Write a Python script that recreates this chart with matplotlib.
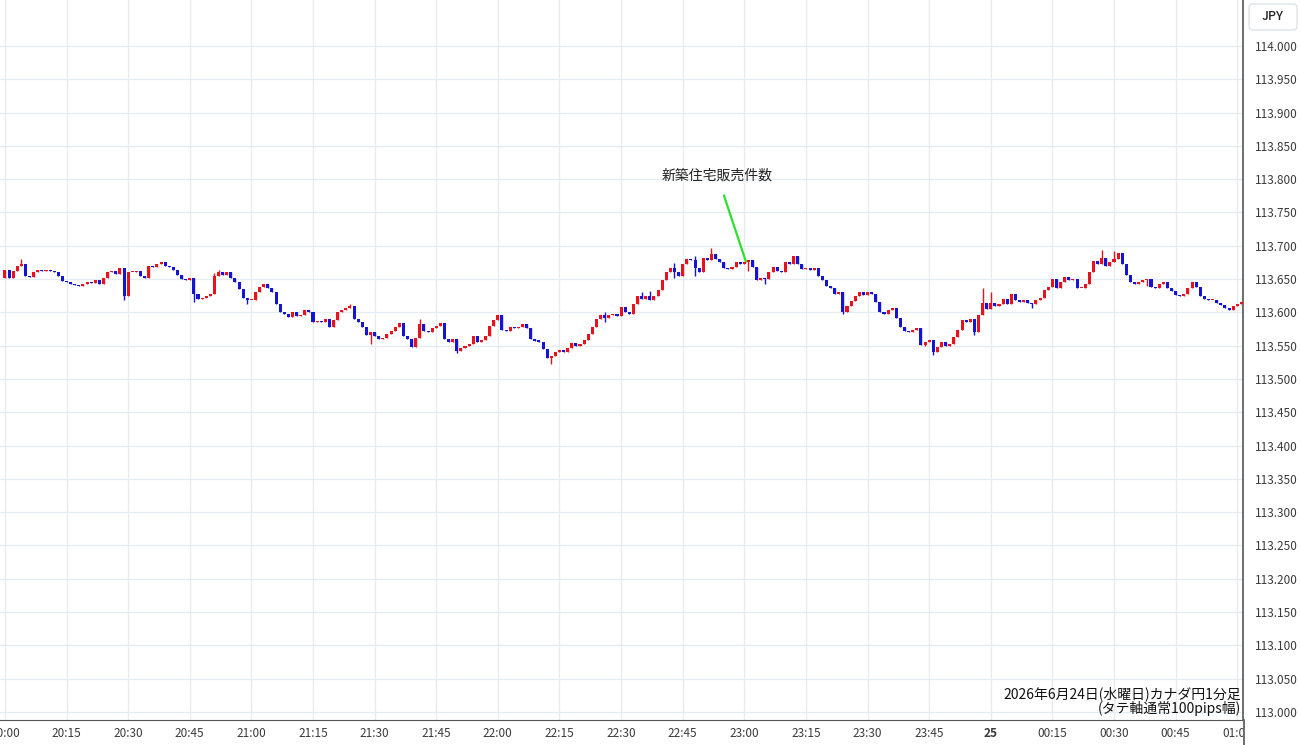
import numpy as np
import pandas as pd
import matplotlib
matplotlib.use('Agg')
import matplotlib.pyplot as plt
import matplotlib.dates as mdates
from matplotlib.patches import FancyBboxPatch, Rectangle
from matplotlib.lines import Line2D

plt.rcParams['font.family'] = ['Noto Sans CJK JP', 'DejaVu Sans']

# 1-minute CAD/JPY closes from 20:00
start = '2026-06-24 20:00'
first_open = 113.652
close = [
    113.664, 113.652, 113.662, 113.670, 113.673, 113.655, 113.653, 113.660, 113.664, 113.662, 113.664, 113.662, 113.660, 113.655, 113.647,
    113.645, 113.643, 113.641, 113.640, 113.642, 113.645, 113.644, 113.648, 113.643, 113.652, 113.660, 113.662, 113.658, 113.666, 113.625,
    113.660, 113.660, 113.662, 113.655, 113.652, 113.670, 113.668, 113.672, 113.675, 113.670, 113.668, 113.664, 113.656, 113.650, 113.648,
    113.652, 113.628, 113.620, 113.622, 113.625, 113.627, 113.655, 113.660, 113.656, 113.660, 113.652, 113.645, 113.635, 113.622, 113.618,
    113.619, 113.630, 113.638, 113.642, 113.636, 113.630, 113.612, 113.600, 113.598, 113.593, 113.600, 113.594, 113.596, 113.603, 113.600,
    113.585, 113.587, 113.586, 113.590, 113.578, 113.588, 113.600, 113.604, 113.606, 113.610, 113.590, 113.585, 113.578, 113.566, 113.570,
    113.565, 113.560, 113.562, 113.568, 113.572, 113.578, 113.584, 113.565, 113.560, 113.548, 113.562, 113.582, 113.572, 113.570, 113.576,
    113.580, 113.584, 113.560, 113.556, 113.560, 113.542, 113.546, 113.550, 113.553, 113.565, 113.556, 113.558, 113.565, 113.580, 113.589,
    113.596, 113.574, 113.572, 113.578, 113.576, 113.578, 113.582, 113.576, 113.560, 113.557, 113.556, 113.545, 113.532, 113.534, 113.540,
    113.544, 113.540, 113.547, 113.554, 113.550, 113.553, 113.558, 113.568, 113.578, 113.590, 113.596, 113.592, 113.596, 113.597, 113.595,
    113.608, 113.600, 113.598, 113.612, 113.625, 113.620, 113.624, 113.618, 113.624, 113.634, 113.648, 113.660, 113.666, 113.660, 113.654,
    113.672, 113.680, 113.678, 113.666, 113.660, 113.682, 113.678, 113.688, 113.680, 113.676, 113.667, 113.665, 113.668, 113.676, 113.672,
    113.676, 113.678, 113.668, 113.648, 113.652, 113.650, 113.660, 113.668, 113.662, 113.660, 113.676, 113.672, 113.685, 113.672, 113.665,
    113.667, 113.664, 113.666, 113.655, 113.648, 113.640, 113.636, 113.628, 113.630, 113.600, 113.610, 113.617, 113.624, 113.630, 113.626,
    113.630, 113.627, 113.615, 113.600, 113.598, 113.603, 113.606, 113.592, 113.578, 113.572, 113.570, 113.574, 113.576, 113.551, 113.555,
    113.558, 113.540, 113.548, 113.555, 113.550, 113.552, 113.563, 113.574, 113.589, 113.585, 113.590, 113.570, 113.596, 113.614, 113.605,
    113.614, 113.610, 113.612, 113.620, 113.612, 113.627, 113.618, 113.616, 113.618, 113.614, 113.612, 113.618, 113.622, 113.634, 113.638,
    113.650, 113.636, 113.645, 113.653, 113.649, 113.650, 113.636, 113.636, 113.642, 113.660, 113.677, 113.672, 113.682, 113.670, 113.675,
    113.680, 113.689, 113.672, 113.656, 113.646, 113.642, 113.645, 113.648, 113.650, 113.638, 113.636, 113.642, 113.645, 113.636, 113.632,
    113.626, 113.625, 113.628, 113.636, 113.645, 113.638, 113.624, 113.620, 113.618, 113.618, 113.614, 113.611, 113.607, 113.604, 113.610,
    113.612, 113.615,
]
# wicks that stick out beyond the body (minute index -> price)
high_wick = {4: 113.680, 51: 113.659, 52: 113.663, 84: 113.613, 101: 113.590, 146: 113.601,
             155: 113.630, 157: 113.632, 163: 113.674, 168: 113.684, 172: 113.697, 238: 113.636,
             240: 113.630, 267: 113.694, 270: 113.692}
low_wick = {29: 113.618, 46: 113.616, 59: 113.612, 89: 113.553, 110: 113.539, 133: 113.522,
            146: 113.585, 163: 113.652, 168: 113.655, 181: 113.662, 185: 113.642, 204: 113.597,
            224: 113.549, 226: 113.536, 236: 113.566, 250: 113.606, 278: 113.640}

tick_labels = ['20:00', '20:15', '20:30', '20:45', '21:00', '21:15', '21:30', '21:45',
               '22:00', '22:15', '22:30', '22:45', '23:00', '23:15', '23:30', '23:45',
               '25', '00:15', '00:30', '00:45', '01:00']

times = pd.date_range(start, periods=len(close), freq='min')
opens = [first_open] + close[:-1]
x = mdates.date2num(times)
o = np.array(opens)
c = np.array(close)
hi = np.maximum(o, c)
lo = np.minimum(o, c)
for k, v in high_wick.items():
    hi[k] = v
for k, v in low_wick.items():
    lo[k] = v

up_col = '#e8121c'
dn_col = '#1414d6'
cols = [up_col if cc >= oo else dn_col for oo, cc in zip(o, c)]

fig = plt.figure(figsize=(13, 7.45), dpi=100)
ax = fig.add_axes([0, 25 / 745, 1243 / 1300, 720 / 745])

one_min = 1 / 1440
ax.vlines(x, lo, hi, colors=cols, lw=1, zorder=3)
body = np.maximum(np.abs(c - o), 0.0018)
ax.bar(x, body, bottom=np.minimum(o, c), width=0.74 * one_min, color=cols, lw=0, zorder=4)

t0 = mdates.date2num(pd.Timestamp(start))
ax.set_xlim(t0 - 1.2 * one_min, t0 + 301.4 * one_min)
ax.set_ylim(112.988, 114.069)

tick_pos = mdates.date2num(pd.date_range(start, periods=len(tick_labels), freq='15min'))
ax.set_xticks(tick_pos)
ax.set_xticklabels(tick_labels)
for lab in ax.get_xticklabels():
    if lab.get_text() == '25':
        lab.set_fontweight('bold')
ax.set_yticks(np.arange(113.0, 114.001, 0.05))
ax.yaxis.set_major_formatter(plt.FormatStrFormatter('%.3f'))
ax.yaxis.tick_right()
ax.tick_params(axis='y', length=0, pad=8.5, labelsize=8.5, labelcolor='#3a3a3a')
ax.tick_params(axis='x', length=0, pad=5, labelsize=8.5, labelcolor='#3a3a3a')
ax.grid(True, color='#e4ebf1', lw=0.9, zorder=0)
ax.set_axisbelow(True)
for s in ['top', 'left']:
    ax.spines[s].set_visible(False)
ax.spines['bottom'].set_color('#555555')
ax.spines['right'].set_color('#555555')
ax.spines['right'].set_linewidth(1.2)

# event annotation
ax.annotate('新築住宅販売件数', xy=(t0 + 180.4 * one_min, 113.676),
            xytext=(t0 + 173.4 * one_min, 113.806), ha='center', va='center', fontsize=10,
            color='#222222',
            arrowprops=dict(arrowstyle='-', color='#2ee02e', lw=1.6, shrinkA=8, shrinkB=0))

# right price panel extras
fig.add_artist(Rectangle((1243 / 1300, 0), 57 / 1300, 25 / 745, transform=fig.transFigure,
                         facecolor='white', edgecolor='none', zorder=10))
fig.add_artist(Line2D([1243.5 / 1300, 1243.5 / 1300], [0, 25 / 745], transform=fig.transFigure,
                      color='#555555', lw=1.2, zorder=11))
fig.add_artist(FancyBboxPatch((12.49, 7.15), 0.48, 0.26, boxstyle='round,pad=0,rounding_size=0.04',
                              transform=fig.dpi_scale_trans, facecolor='white',
                              edgecolor='#dfe3e8', lw=1, zorder=11))
fig.text(12.73 / 13, 7.28 / 7.45, 'JPY', ha='center', va='center', fontsize=9,
         fontweight='medium', color='#222222', zorder=12)

fig.text(1241 / 1300, 1 - 694 / 745, '2026年6月24日(水曜日)カナダ円1分足', ha='right',
         va='center', fontsize=10, color='#111111')
fig.text(1241 / 1300, 1 - 708 / 745, '(タテ軸通常100pips幅)', ha='right',
         va='center', fontsize=10, color='#111111')

fig.savefig('out.png', dpi=100)
